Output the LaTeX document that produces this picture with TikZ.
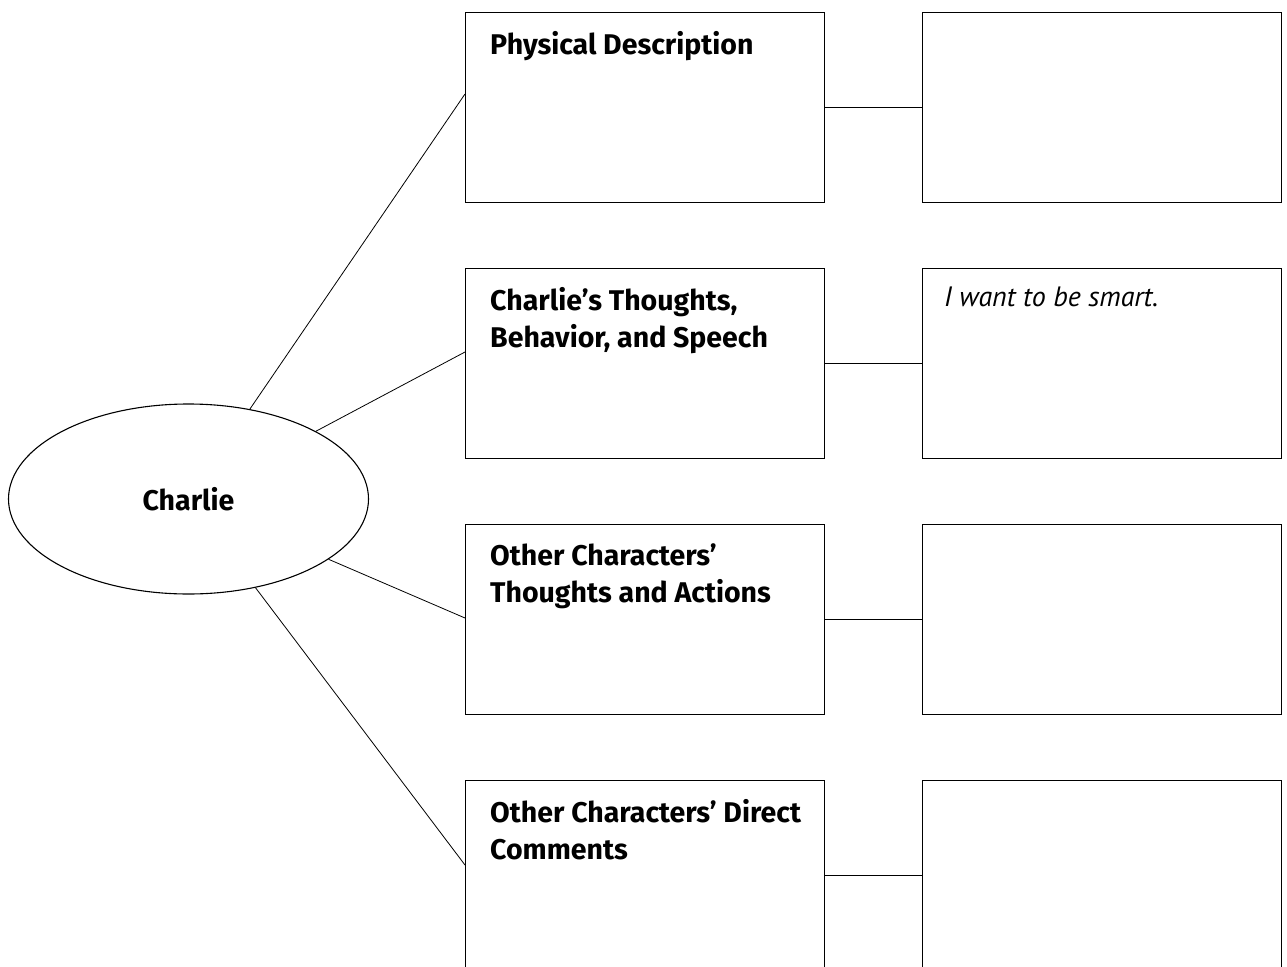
\documentclass[tikz,border=0pt]{standalone}
\usepackage{fontspec}
\setmainfont{Fira Sans}
\newfontfamily\handfont{PT Sans}
\usetikzlibrary{shapes.geometric}
\begin{document}
\begin{tikzpicture}[x=1pt,y=-1pt,
  box/.style={draw, line width=1.3pt, rectangle, minimum width=359pt, minimum height=190pt, inner sep=0pt, anchor=north west},
  head/.style={anchor=north west, inner sep=0pt, align=left, font=\fontsize{28.5}{37}\selectfont\bfseries, xshift=25pt, yshift=-19.5pt},
  hand/.style={anchor=north west, inner sep=0pt, font=\handfont\fontsize{28}{30}\selectfont\itshape, xshift=22pt, yshift=-19pt},
  conn/.style={line width=0.8pt}]
\useasboundingbox (0,0) rectangle (1287,966);
\clip (0,0) rectangle (1287,966);
\fill[white] (0,0) rectangle (1287,966);
\node[draw, ellipse, line width=1.1pt, minimum width=360pt, minimum height=190pt, inner sep=0pt,
  font=\fontsize{28.5}{30}\selectfont\bfseries] (ell) at (188.5,499) {Charlie};
\foreach \i/\t in {1/12,2/268,3/524,4/780}{
  \node[box] (L\i) at (465,\t) {};
  \node[box] (R\i) at (922,\t) {};
  \draw[conn] (L\i.east) -- (R\i.west);
}
\coordinate (e1) at (465,94);
\coordinate (e2) at (465,352);
\coordinate (e3) at (465,618);
\coordinate (e4) at (465,865);
\foreach \i in {1,2,3,4}{ \draw[conn] (ell) -- (e\i); }
\node[head] (h1) at (L1.north west) {Physical Description};
\node[head] (h2) at (L2.north west) {Charlie’s Thoughts,\\Behavior, and Speech};
\node[head] (h3) at (L3.north west) {Other Characters’\\Thoughts and Actions};
\node[head] (h4) at (L4.north west) {Other Characters’ Direct\\Comments};
\node[hand] (t2) at (R2.north west) {I want to be smart.};
\end{tikzpicture}
\end{document}
